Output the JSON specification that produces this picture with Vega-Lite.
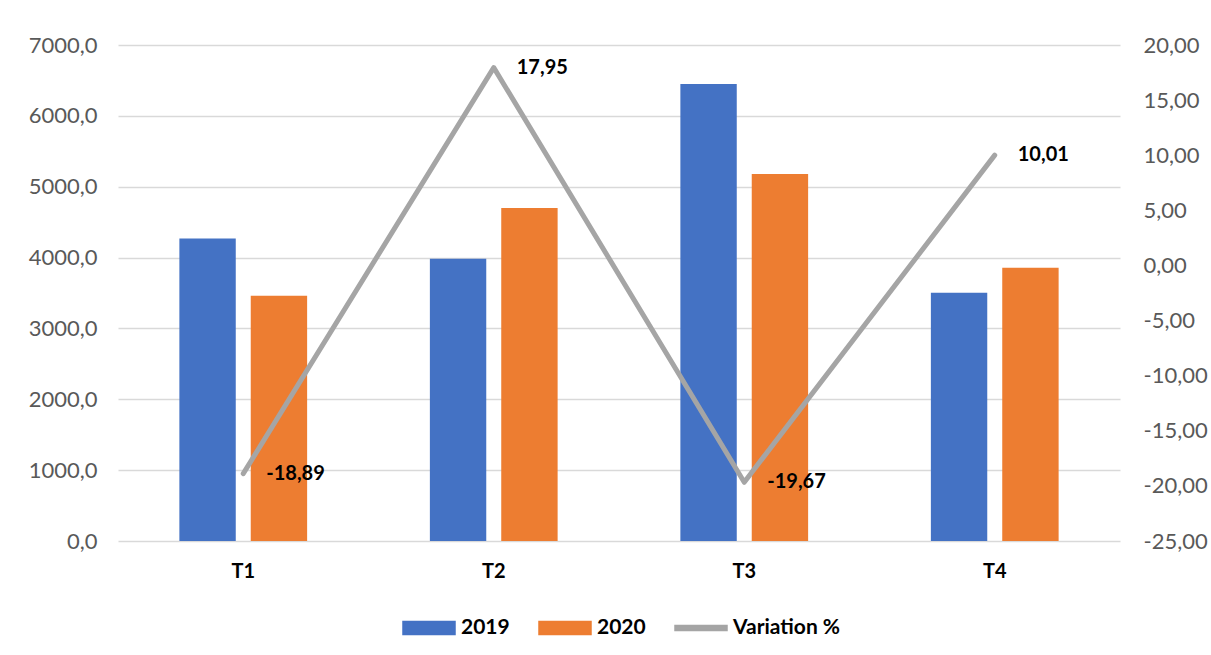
{
  "$schema": "https://vega.github.io/schema/vega-lite/v6.json",
  "width": 1002,
  "height": 496,
  "autosize": "none",
  "padding": {"left": 118, "top": 45, "right": 91, "bottom": 114},
  "background": "white",
  "datasets": {
    "bars": [
      {"quarter": "T1", "series": "2019", "value": 4268},
      {"quarter": "T1", "series": "2020", "value": 3462},
      {"quarter": "T2", "series": "2019", "value": 3985},
      {"quarter": "T2", "series": "2020", "value": 4700},
      {"quarter": "T3", "series": "2019", "value": 6450},
      {"quarter": "T3", "series": "2020", "value": 5181},
      {"quarter": "T4", "series": "2019", "value": 3505},
      {"quarter": "T4", "series": "2020", "value": 3856}
    ],
    "variation": [
      {"quarter": "T1", "series": "Variation %", "pct": -18.89},
      {"quarter": "T2", "series": "Variation %", "pct": 17.95},
      {"quarter": "T3", "series": "Variation %", "pct": -19.67},
      {"quarter": "T4", "series": "Variation %", "pct": 10.01}
    ]
  },
  "encoding": {
    "x": {
      "field": "quarter",
      "type": "nominal",
      "sort": ["T1", "T2", "T3", "T4"],
      "scale": {"paddingInner": 0.49, "paddingOuter": 0.245},
      "axis": {
        "title": null,
        "domain": false,
        "ticks": false,
        "labelAngle": 0,
        "labelFont": "Lato",
        "labelFontSize": 20,
        "labelFontWeight": "bold",
        "labelColor": "black",
        "labelPadding": 20
      }
    }
  },
  "layer": [
    {
      "data": {"name": "bars"},
      "mark": {"type": "bar"},
      "encoding": {
        "xOffset": {
          "field": "series",
          "type": "nominal",
          "scale": {"paddingInner": 0.21, "paddingOuter": 0}
        },
        "y": {
          "field": "value",
          "type": "quantitative",
          "scale": {"domain": [0, 7000]},
          "axis": {
            "title": null,
            "values": [0, 1000, 2000, 3000, 4000, 5000, 6000, 7000],
            "format": ".1f",
            "domain": false,
            "ticks": false,
            "gridColor": "#D9D9D9",
            "gridWidth": 1.3,
            "labelFont": "Lato",
            "labelFontSize": 22,
            "labelColor": "#595959",
            "labelPadding": 21
          }
        },
        "color": {
          "field": "series",
          "type": "nominal",
          "scale": {
            "domain": ["2019", "2020", "Variation %"],
            "range": ["#4472C4", "#ED7D31", "#A5A5A5"]
          },
          "legend": {
            "title": null,
            "orient": "none",
            "direction": "horizontal",
            "legendX": 284,
            "legendY": 556,
            "labelFont": "Lato",
            "labelFontSize": 21,
            "labelFontWeight": "bold",
            "labelColor": "black",
            "labelOffset": 5,
            "columnPadding": 26,
            "symbolSize": 2704,
            "encode": {
              "symbols": {
                "update": {
                  "shape": {"signal": "datum.value === 'Variation %' ? 'M-1,-0.1H1V0.1H-1Z' : 'M-1,-0.25H1V0.25H-1Z'"},
                  "fill": {"scale": "color", "field": "value"},
                  "stroke": {"value": "transparent"},
                  "size": {"value": 2704}
                }
              }
            }
          }
        }
      }
    },
    {
      "data": {"name": "variation"},
      "layer": [
        {
          "mark": {"type": "line", "strokeWidth": 5, "strokeCap": "round", "strokeJoin": "round"},
          "encoding": {
            "y": {
              "field": "pct",
              "type": "quantitative",
              "scale": {"domain": [-25, 20]},
              "axis": {
                "orient": "right",
                "title": null,
                "values": [-25, -20, -15, -10, -5, 0, 5, 10, 15, 20],
                "format": ".2f",
                "grid": false,
                "domain": false,
                "ticks": false,
                "labelAlign": "left",
                "labelFont": "Lato",
                "labelFontSize": 22,
                "labelColor": "#595959",
                "labelPadding": 23
              }
            },
            "color": {"field": "series", "type": "nominal"}
          }
        },
        {
          "mark": {
            "type": "text",
            "align": "left",
            "baseline": "middle",
            "dx": 23,
            "font": "Lato",
            "fontSize": 20,
            "fontWeight": "bold",
            "color": "black"
          },
          "encoding": {
            "y": {"field": "pct", "type": "quantitative"},
            "text": {"field": "pct", "type": "quantitative", "format": ".2f"}
          }
        }
      ]
    }
  ],
  "resolve": {"scale": {"y": "independent"}},
  "config": {
    "view": {"stroke": null},
    "locale": {
      "number": {
        "decimal": ",",
        "thousands": " ",
        "grouping": [3],
        "currency": ["", " €"],
        "minus": "-"
      }
    }
  }
}
